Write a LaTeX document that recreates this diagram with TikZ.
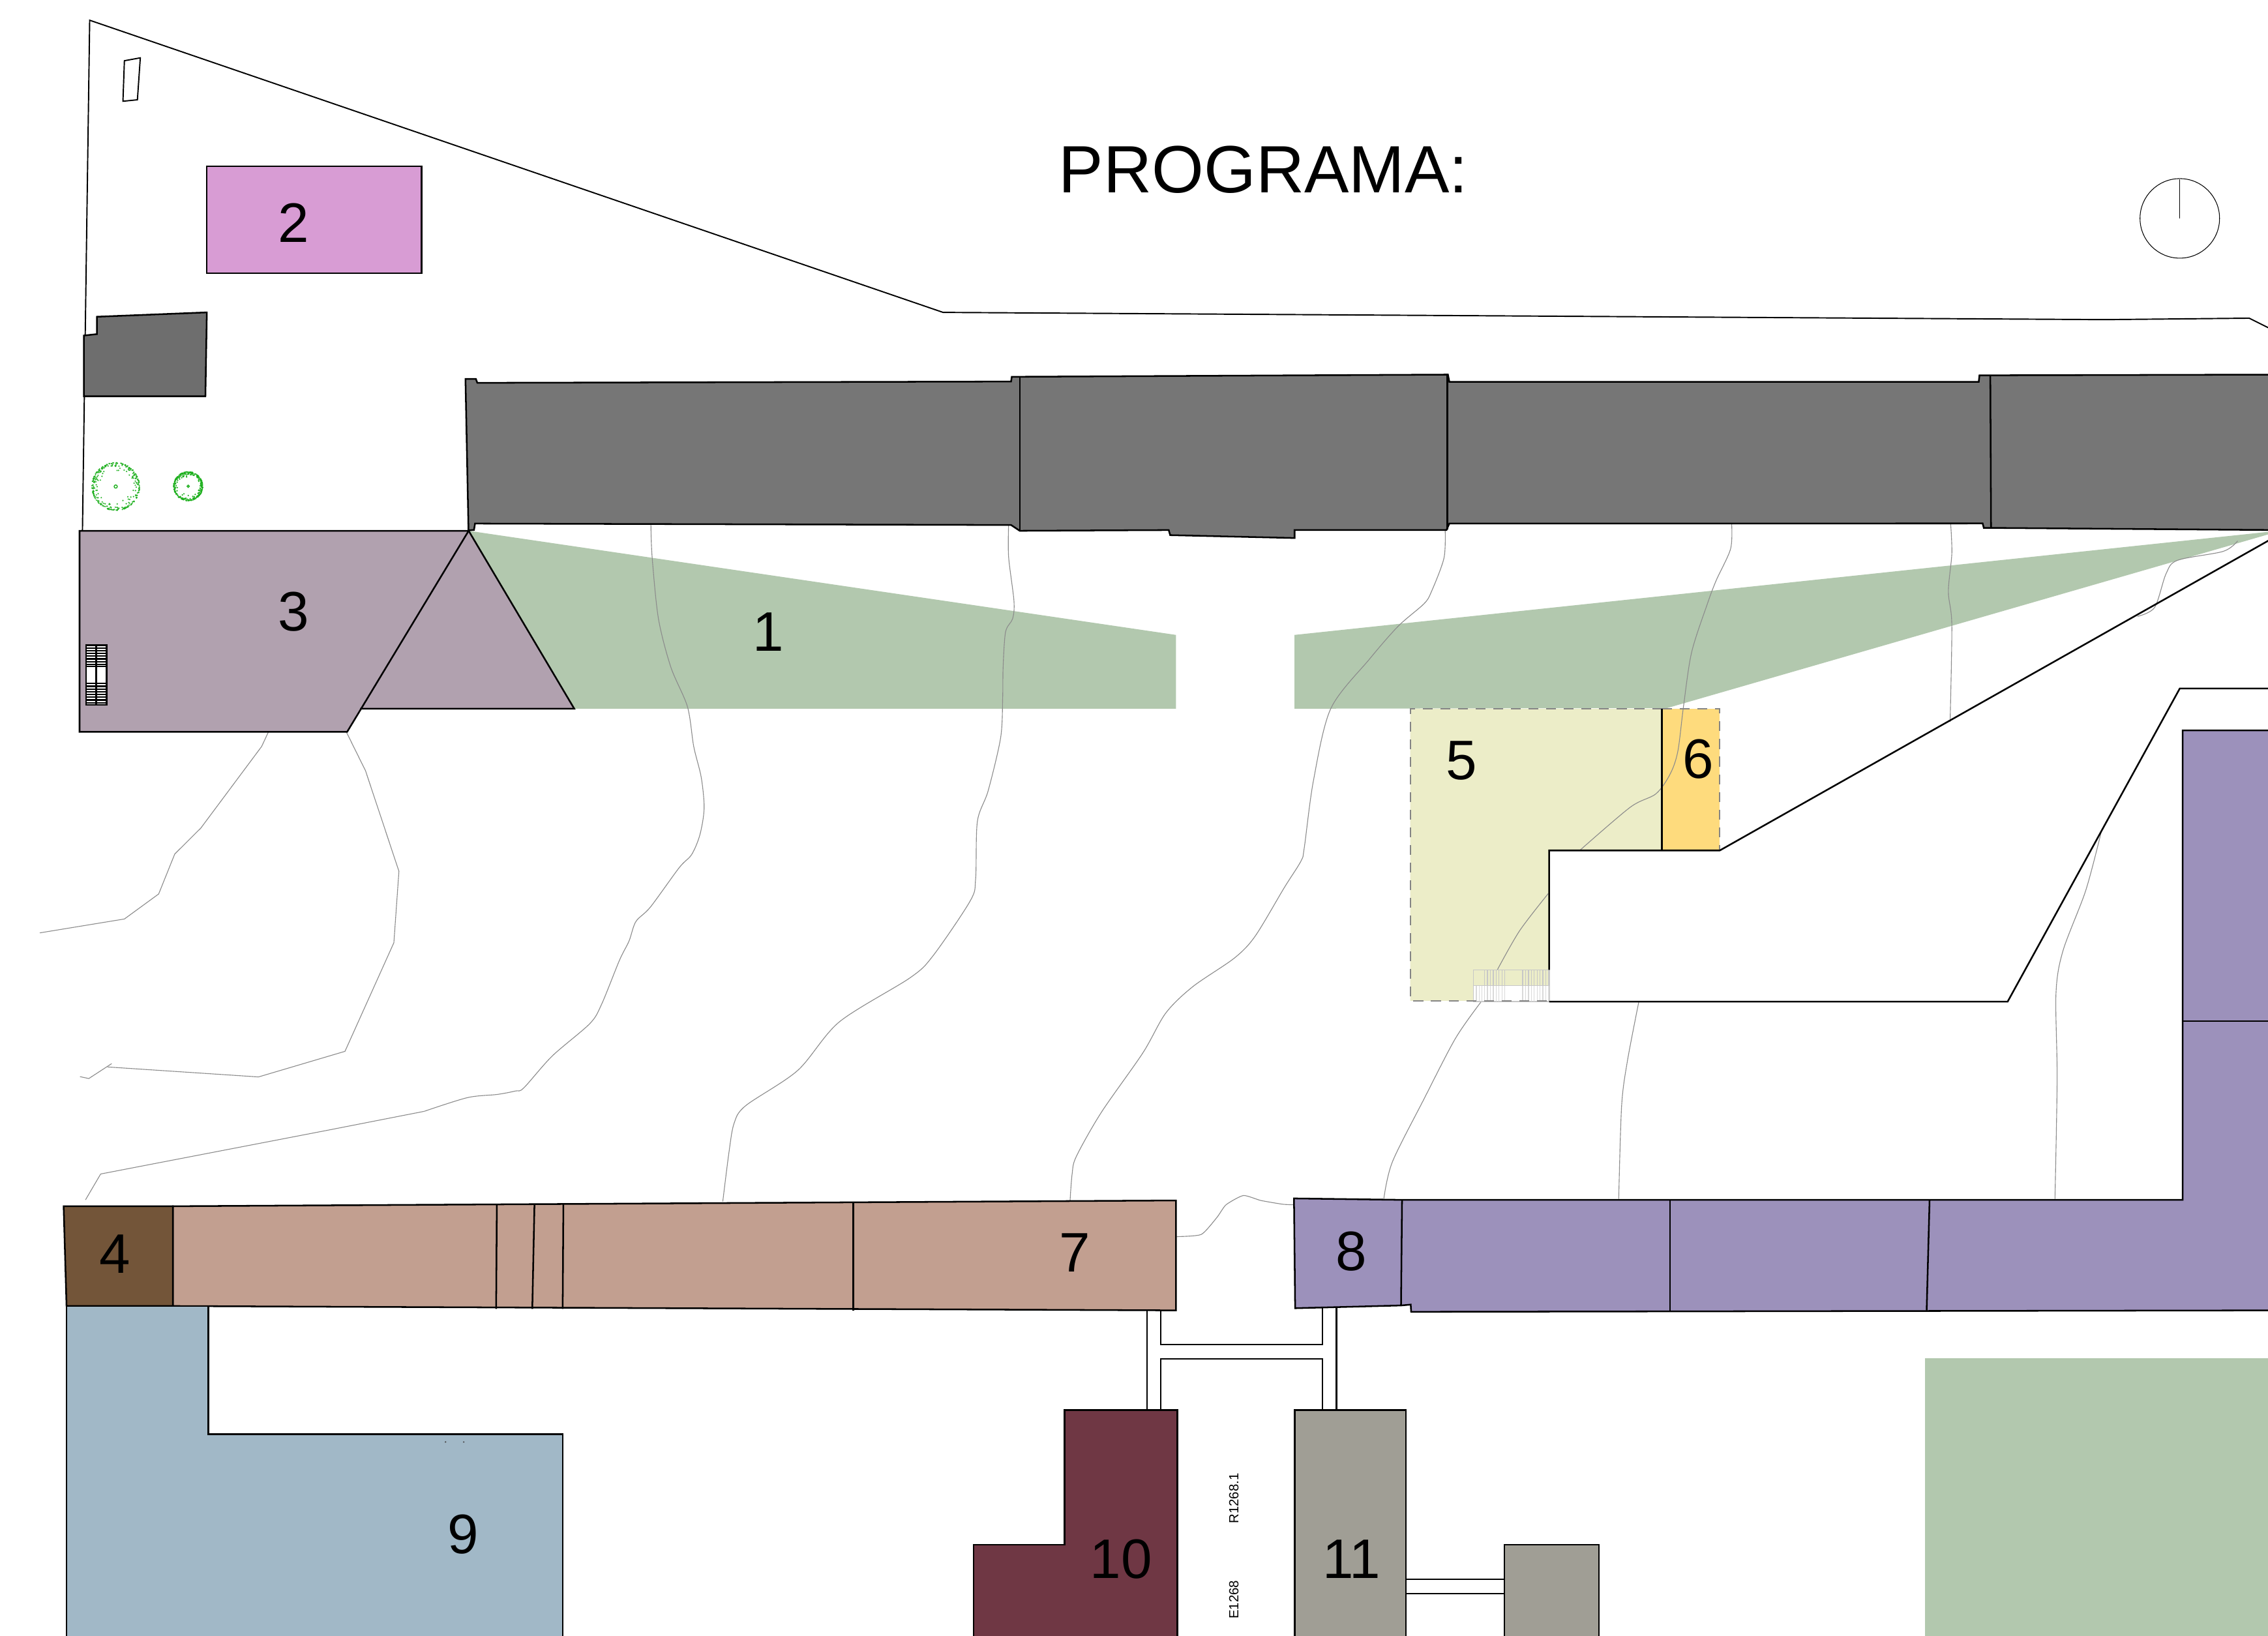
\documentclass[tikz,border=0pt]{standalone}
\usepackage{fontspec}
\setmainfont{Liberation Sans}
\definecolor{cMain}{HTML}{767676}
\definecolor{cHut}{HTML}{6E6E6E}
\definecolor{cPink}{HTML}{D89CD4}
\definecolor{cMauve}{HTML}{B1A1AF}
\definecolor{cGreen}{HTML}{B2C8AE}
\definecolor{cYellowPale}{HTML}{ECEDC8}
\definecolor{cYellow}{HTML}{FEDB7D}
\definecolor{cBrown}{HTML}{735539}
\definecolor{cSalmon}{HTML}{C29F90}
\definecolor{cViolet}{HTML}{9C91BB}
\definecolor{cBlue}{HTML}{A1B8C7}
\definecolor{cWine}{HTML}{6F3744}
\definecolor{cStone}{HTML}{A09E95}
\definecolor{cTree}{HTML}{1EB01E}
\tikzset{
  edge/.style={draw=black,line width=0.72pt,line join=miter},
  thinedge/.style={draw=black,line width=0.55pt},
  contour/.style={draw=black!45,line width=0.32pt,line join=round},
  dashedge/.style={draw=black!48,line width=0.6pt,dash pattern=on 4.3pt off 3.4pt},
  num/.style={font=\fontsize{24.3}{28}\selectfont,inner sep=0pt},
  small/.style={font=\fontsize{5.8}{6.5}\selectfont,inner sep=0pt,rotate=90},
  hatchA/.style={draw=black!22,line width=0.4pt},
  hatchB/.style={draw=black!15,line width=0.4pt}
}
\begin{document}
\begin{tikzpicture}[x=0.02218cm,y=-0.02218cm]
\clip (0,0) rectangle (1568,1130.7);
\fill[white] (0,0) rectangle (1568,1130.7);
% site outline
\draw[thinedge] (57,367) -- (62,14) -- (652,216) -- (1455,221) -- (1555,220) -- (1575,230);
\draw[thinedge] (86,42) -- (97,40) -- (95,69) -- (85,70) -- cycle;
% north mark
\draw[draw=black,line width=0.3pt] (1507,151) circle (27.5);
\draw[draw=black,line width=0.3pt] (1507,124) -- (1507,151);
% green wedges
\fill[cGreen] (324,367) -- (813,439) -- (813,490) -- (397,490) -- cycle;
\fill[cGreen] (895,439) -- (1575,367) -- (1575,367.5) -- (1152.8,489.5) -- (895,490) -- cycle;
% yellow zones
\fill[cYellowPale] (975,490) -- (1149,490) -- (1149,588) -- (1071,588) -- (1071,692) -- (975,692) -- cycle;
\fill[cYellow] (1149,490) rectangle (1189,588);
% white hatched step area
\fill[white] (1018.6,681.5) rectangle (1071.2,692.5);
% contours
\draw[contour] (185.6,506) -- (180.9,516.1) -- (138.8,572.6) -- (120.8,590.5) -- (109.7,618.1) -- (86,635.4) -- (27.5,645);
\draw[contour] (239.4,506) -- (252.7,532.9) -- (275.8,602.4) -- (272.3,651.8) -- (238.5,726.9) -- (178.7,744.6) -- (74.3,737.7);
\draw[contour] (77.2,735.4) -- (61.4,745.7) -- (55.3,744.4);
\draw[contour] plot[smooth,tension=0.5] coordinates {(450,363) (450.85,385.1) (455.2,427.7) (463.8,461.3) (475.3,488.7) (479.6,516.1) (484.8,537.5) (486.8,558.8) (483.9,577.1) (478.2,590.8) (469.5,600) (449.7,627.1) (439.6,637.2) (434.9,650.6) (428.2,664.1) (415.9,694.4) (407.7,707.8) (381.7,730.2) (362.1,752.2) (356.4,754.3) (343.8,756.7) (323.2,758.9) (293.2,768.4)};
\draw[contour] (293.2,768.4) -- (226.8,781.4) -- (69.6,811.7) -- (59.1,829.6);
\draw[contour] plot[smooth,tension=0.5] coordinates {(697.3,363.1) (697.3,385) (701,415.5) (700.1,427.7) (695.2,436.9) (693.5,461.3) (693.2,482.6) (691.8,510) (683.2,546.6) (675.7,568) (674.5,607.6) (670.8,622.8) (645,660.9) (629.1,676.1) (580.2,706.6) (551.5,740.1) (515.5,764.5) (507.5,776.7) (504,796.5) (499.7,830.7)};
\draw[contour] plot[smooth,tension=0.5] coordinates {(999.1,365.6) (998.3,385.8) (989.6,409.1) (984.4,417.5) (966.6,433) (946.8,455.7) (920,490) (908,540) (901.7,586.2) (899.4,595.4) (887.9,613.7) (867.8,647.2) (853.4,662.4) (824.6,682.2) (805.9,700.5) (790.1,728) (761.4,769.1) (744.1,799.6) (741.2,811.8) (739.8,830)};
\draw[contour] plot[smooth,tension=0.5] coordinates {(1197.2,362.5) (1196.4,379.6) (1186.5,401.3) (1180.6,416.9) (1169.5,451) (1163.9,488.3) (1160,519.3) (1154.8,534.9) (1144.9,548.8) (1127.1,558.1) (1092.6,587.6)};
\draw[contour] plot[smooth,tension=0.5] coordinates {(1070.4,617.8) (1050.6,643.5) (1035.2,670.5)};
\draw[contour] plot[smooth,tension=0.5] coordinates {(1024,692.6) (1006.2,718) (984.4,760) (962.6,803.4) (956.7,828.9)};
\draw[contour] plot[smooth,tension=0.5] coordinates {(1348.6,362.5) (1349.4,382.7) (1347,409) (1349.4,432.4) (1348.2,499.1)};
\draw[contour] plot[smooth,tension=0.5] coordinates {(1547,374) (1537.1,381.2) (1505.4,387.4) (1497.5,396.7) (1489.6,420) (1477.7,426.2)};
\draw[contour] plot[smooth,tension=0.5] coordinates {(1133,692.6) (1125.1,733.6) (1121.1,764.6) (1119.1,828.9)};
\draw[contour] plot[smooth,tension=0.5] coordinates {(1452.7,575.2) (1442,615.6) (1426.2,657.5) (1421.4,687) (1422.2,746) (1420.7,828.9)};
\draw[contour] plot[smooth,tension=0.35] coordinates {(813.5,855) (830.5,853.5) (841.5,841.5) (847.6,833) (859.6,826.6) (871.6,830) (886.7,832.6) (894.6,833)};
% step hatch
\draw[hatchA] (1018.6,670.6) rectangle (1071.2,692.5) (1018.6,681.5) -- (1071.2,681.5);
\foreach \x in {170,183,197,210,223,236,250,263,345,358,372,385,398,412,425,438,452,465}
  \draw[hatchA] ({(2220+\x/3)/2.2181},670.6) -- ({(2220+\x/3)/2.2181},681.5);
\foreach \x in {132,145,158,170,183,197,210,223,236,250,263,345,358,372,385,398,412,425,438,452,465}
  \draw[hatchB] ({(2220+\x/3)/2.2181},681.5) -- ({(2220+\x/3)/2.2181},692.5);
% yellow borders
\draw[dashedge] (1149,490) -- (975,490) -- (975,692) -- (1071,692);
\draw[dashedge] (1149,490) -- (1189,490) -- (1189,588);
\draw[edge] (1149,490) -- (1149,588);
% site cut-outs
\draw[edge] (1575,370) -- (1189,588) -- (1071,588) -- (1071,670.6);
\draw[edge] (1071,692.5) -- (1388,692.5) -- (1507,476) -- (1575,476);
% small hut
\draw[edge,fill=cHut] (58,232) -- (67,231) -- (67,219) -- (143,216) -- (142,274) -- (58,274) -- cycle;
% main grey building
\draw[edge,fill=cMain] (321.8,262) -- (329,262) -- (330,264.7) -- (699,263.8) -- (699.5,260.5) -- (705,260.5) -- (1001,259) -- (1002,264) -- (1368,264) -- (1368.5,259.5) -- (1376,259.5) -- (1575,259) -- (1575,366.5) -- (1377.5,365) -- (1371.5,365) -- (1370.7,361.9) -- (1002,362) -- (1000,366.5) -- (895,366.5) -- (895,372) -- (809,370) -- (808,366.5) -- (705,367) -- (699,363) -- (328.4,362) -- (327.7,366.4) -- (323.9,366.7) -- cycle;
\draw[edge] (705,260.5) -- (705,367);
\draw[edge] (1000.5,259) -- (1000.5,366);
\draw[edge] (1376,259.5) -- (1376.5,365);
% pink
\draw[edge,fill=cPink] (143,115) rectangle (291.5,189);
% trees
\pgfmathsetseed{4217}
\foreach \i in {1,...,300}{
  \pgfmathsetmacro{\ang}{rnd*360}
  \pgfmathsetmacro{\rad}{16.5*(1-0.5*rnd*rnd*rnd)}
  \fill[cTree,opacity=0.9] ({80+\rad*cos(\ang)},{336.4+\rad*sin(\ang)}) circle (0.55);
}
\foreach \i in {1,...,300}{
  \pgfmathsetmacro{\ang}{rnd*360}
  \pgfmathsetmacro{\rad}{10*(1-0.5*rnd*rnd*rnd)}
  \fill[cTree] ({130.1+\rad*cos(\ang)},{336.2+\rad*sin(\ang)}) circle (0.55);
}
\draw[cTree,line width=0.4pt] (80,336.4) circle (1.1);
\draw[cTree,line width=0.4pt] (130.1,336.2) circle (0.8);
% area 3
\fill[cMauve] (55,367) -- (324,367) -- (397,490) -- (249,490) -- (240,506) -- (55,506) -- cycle;
\draw[edge] (55,506) -- (55,367) -- (324,367) -- (240,506) -- cycle;
\draw[edge] (324,367) -- (397,490) -- (249,490);
% stair
\fill[white] (59.5,446) rectangle (73.6,487.4);
\draw[edge] (59.5,446) rectangle (73.6,487.4);
\draw[edge] (66.5,446) -- (66.5,487.4);
\foreach \y in {448,449.9,451.8,453.7,455.6,457.5,459.4,460.8,472.6,474.5,476.4,478.3,480.2,482.1,484,485.9}
  \draw[draw=black,line width=0.62pt] (59.5,\y) -- (73.6,\y);
% bottom row
\draw[edge,fill=cSalmon] (119.5,834) -- (813,830) -- (813,906) -- (119.5,903) -- cycle;
\draw[edge] (343.5,833) -- (343,905);
\draw[edge] (369.5,833) -- (368,905);
\draw[edge] (389.5,832) -- (389,905);
\draw[edge] (590,831) -- (590,906);
\draw[edge,fill=cBrown] (44,834) -- (119.5,834) -- (119.5,903) -- (46,903) -- cycle;
% corridors
\draw[edge] (793,906) -- (793,975);
\draw[edge] (802.5,906) -- (802.5,929.6) -- (914.2,929.6) -- (914.2,904);
\draw[edge] (802.5,975) -- (802.5,939.6) -- (914.2,939.6) -- (914.2,975);
\draw[edge] (924,904) -- (924,975);
% violet
\draw[edge,fill=cViolet] (894.6,828.6) -- (969.3,829.6) -- (1509,829.6) -- (1509,505) -- (1575,505) -- (1575,906) -- (975.6,907) -- (975.3,902) -- (968.6,902.6) -- (895.4,904.5) -- cycle;
\draw[edge] (969.3,829.6) -- (968.6,902.6);
\draw[edge] (1154.5,830) -- (1154.5,907);
\draw[edge] (1334,830) -- (1332,906);
\draw[edge] (1509,706) -- (1575,706);
% blue
\draw[edge,fill=cBlue] (46,903) -- (144,903) -- (144,991.5) -- (389,991.5) -- (389,1140) -- (46,1140) -- cycle;
\fill[black!70] (308,997) circle (0.6) (320.6,997) circle (0.6);
% wine
\draw[edge,fill=cWine] (736,975) -- (814,975) -- (814,1140) -- (673,1140) -- (673,1068) -- (736,1068) -- cycle;
% stone
\draw[thinedge] (972,1092) -- (1040,1092);
\draw[thinedge] (972,1102) -- (1040,1102);
\draw[edge,fill=cStone] (895,975) rectangle (972,1140);
\draw[edge,fill=cStone] (1040,1068) rectangle (1105.5,1140);
% green block
\fill[cGreen] (1331,939) rectangle (1575,1140);
% labels
\node[num] (n1) at (531,437) {1};
\node[num] (n2) at (203,154) {2};
\node[num] (n3) at (203,423) {3};
\node[num] (n4) at (79.5,867) {4};
\node[num] (n5) at (1010.5,526) {5};
\node[num] (n6) at (1174,525) {6};
\node[num] (n7) at (743,866) {7};
\node[num] (n8) at (934,865) {8};
\node[num] (n9) at (320,1061) {9};
\node[num] (n10) at (775,1078) {10};
\node[num] (n11) at (934.5,1078) {11};
\node[font=\fontsize{29.2}{33}\selectfont,inner sep=0pt] (title) at (873.5,117.3) {PROGRAMA:};
\node[small] (r1) at (853,1036) {R1268.1};
\node[small] (e1) at (853,1106) {E1268};
\end{tikzpicture}
\end{document}
